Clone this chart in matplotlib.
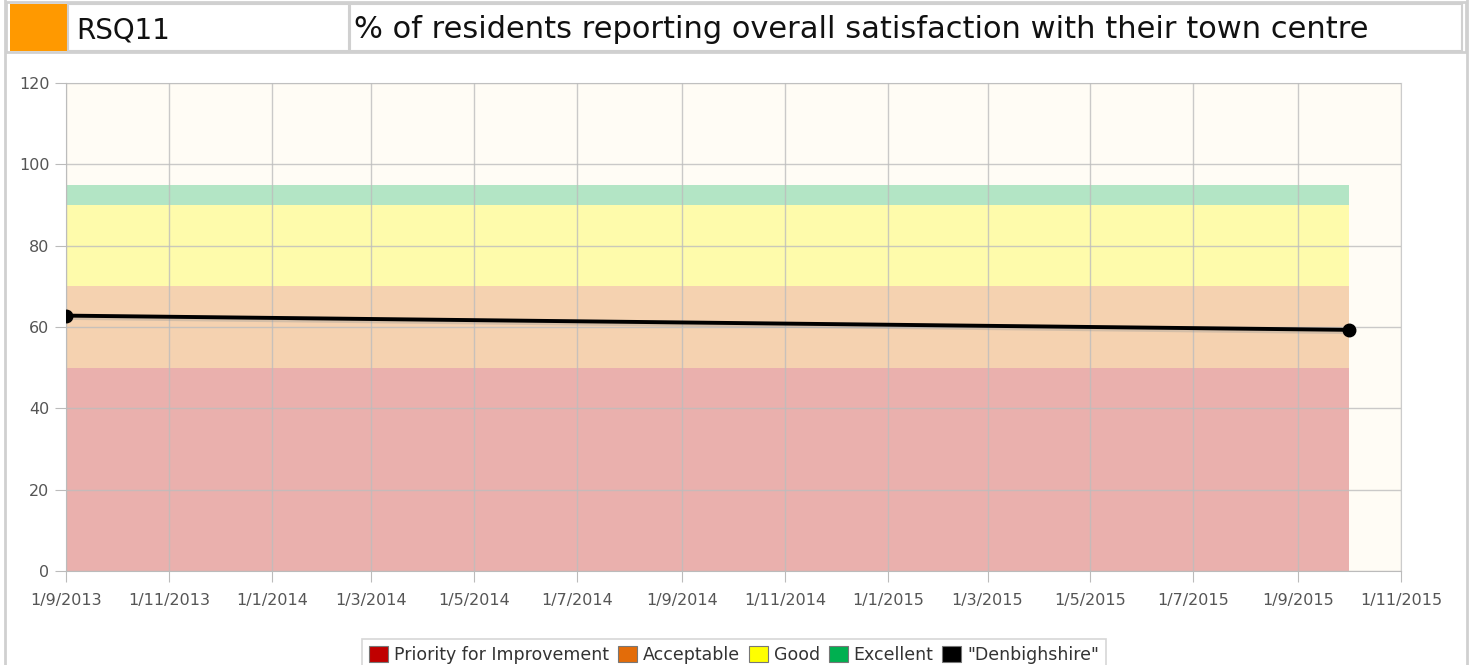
import matplotlib
matplotlib.use("Agg")
import matplotlib.pyplot as plt
from matplotlib.patches import Rectangle, Patch
from datetime import datetime

plt.rcParams['font.family'] = ['DejaVu Sans']

# data
code = "RSQ11"
title = "% of residents reporting overall satisfaction with their town centre"
dates = ["2013-09-01", "2015-10-01"]
values = [62.8, 59.3]
series_name = '"Denbighshire"'

# target bands (lower, upper) and colours
band_names = ["Priority for Improvement", "Acceptable", "Good", "Excellent"]
band_lows = [0, 50, 70, 90]
band_highs = [50, 70, 90, 95]
band_fill = ["#eab0ad", "#f5d2b0", "#fefbab", "#b3e5c5"]
band_key = ["#c00000", "#e36c09", "#ffff00", "#00b050"]

tick_dates = ["2013-09-01", "2013-11-01", "2014-01-01", "2014-03-01", "2014-05-01",
              "2014-07-01", "2014-09-01", "2014-11-01", "2015-01-01", "2015-03-01",
              "2015-05-01", "2015-07-01", "2015-09-01", "2015-11-01"]
y_ticks = [0, 20, 40, 60, 80, 100, 120]

x = [datetime.strptime(d, "%Y-%m-%d") for d in dates]
xt = [datetime.strptime(d, "%Y-%m-%d") for d in tick_dates]
xt_labels = [f"{d.day}/{d.month}/{d.year}" for d in xt]

W, H = 1472, 665
fig = plt.figure(figsize=(W / 100, H / 100), dpi=100)
fig.patch.set_facecolor("white")

def px(x0, y0, w, h, **kw):
    # rectangle in pixel coords (top-left origin)
    r = Rectangle((x0 / W, 1 - (y0 + h) / H), w / W, h / H, transform=fig.transFigure, **kw)
    fig.patches.append(r)

# outer frame + header cells
px(5, -5, 1462, 680, facecolor="none", edgecolor="#d0d0d0", lw=2)
px(6, 2, 1460, 50, facecolor="white", edgecolor="#d0d0d0", lw=2)
px(10, 4, 57, 47, facecolor="#ff9900", edgecolor="none")
px(68, 4, 281, 47, facecolor="none", edgecolor="#d0d0d0", lw=1.5)
px(350, 4, 1112, 47, facecolor="none", edgecolor="#d0d0d0", lw=1.5)
fig.text(76 / W, 1 - 30 / H, code, fontsize=20, va="center", ha="left", color="#111111")
fig.text(354 / W, 1 - 30 / H, title, fontsize=22, va="center", ha="left", color="#111111")

ax = fig.add_axes([66 / W, 1 - 571 / H, 1335 / W, 488 / H])
ax.set_facecolor("#fffcf5")

for lo, hi, c in zip(band_lows, band_highs, band_fill):
    ax.fill_between([x[0], x[-1]], lo, hi, color=c, lw=0, zorder=1)

ax.grid(True, color="#bdbdbd", lw=1, alpha=0.8, zorder=2)
ax.set_axisbelow(False)
ax.plot(x, values, color="#999999", lw=4, alpha=0.35, zorder=3,
        transform=ax.transData + matplotlib.transforms.ScaledTranslation(1 / 100, -1.5 / 100, fig.dpi_scale_trans))
ax.plot(x, values, color="black", lw=2.8, marker="o", ms=9, zorder=4)

ax.set_xlim(xt[0], xt[-1])
ax.set_ylim(0, 120)
ax.set_xticks(xt)
ax.set_xticklabels(xt_labels)
ax.set_yticks(y_ticks)
for s in ax.spines.values():
    s.set_color("#cccccc")
ax.spines["left"].set_color("#bbbbbb")
ax.spines["bottom"].set_color("#bbbbbb")
ax.tick_params(axis="both", colors="#bbbbbb", labelcolor="#555555", length=8, labelsize=11.5)
ax.tick_params(axis="x", pad=8)
ax.tick_params(axis="y", pad=4)

handles = [Patch(facecolor=c, edgecolor="#777777", lw=0.8) for c in band_key]
handles.append(Patch(facecolor="black", edgecolor="#777777", lw=0.8))
leg = fig.legend(handles, band_names + [series_name], loc="upper center",
                 bbox_to_anchor=(734 / W, 1 - 630 / H), ncol=5, frameon=True,
                 fontsize=12.5, handlelength=1.1, handleheight=1.1, handletextpad=0.35,
                 columnspacing=0.5, borderpad=0.4, fancybox=False, labelcolor="#333333")
leg.get_frame().set_edgecolor("#cccccc")
leg.get_frame().set_linewidth(1.2)

fig.savefig("out.png", dpi=100, facecolor="white")
